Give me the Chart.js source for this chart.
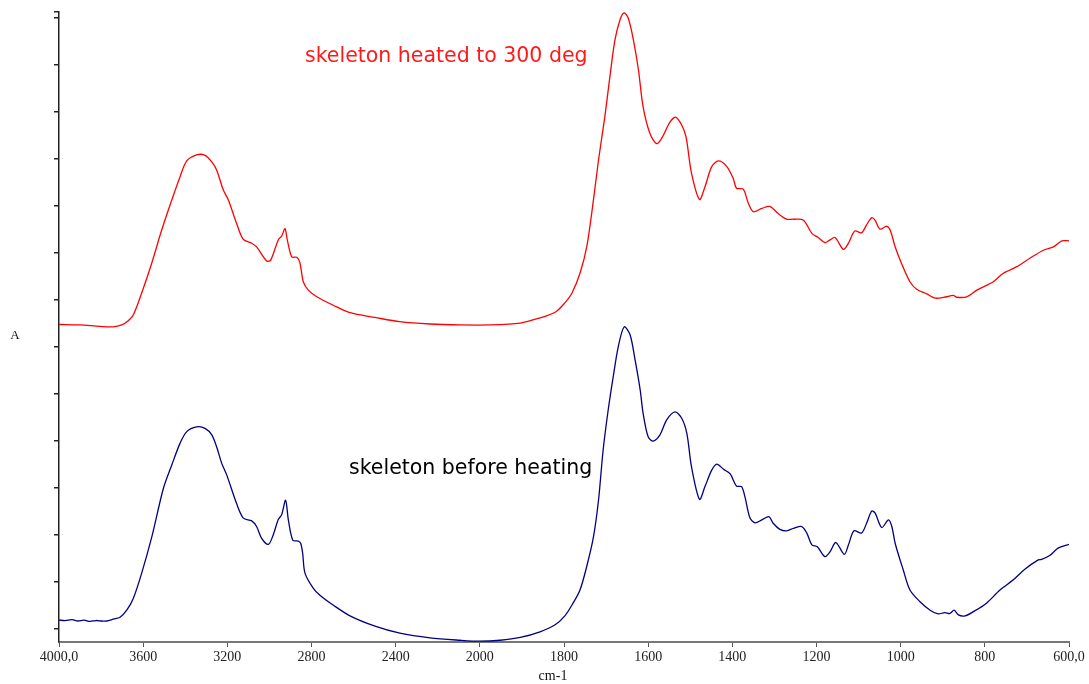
<!DOCTYPE html>
<html>
<head>
<meta charset="utf-8">
<title>IR spectra of skeleton before and after heating</title>
<script src="https://cdn.jsdelivr.net/npm/chart.js@4.4.1/dist/chart.umd.min.js"></script>
<style>
  html, body { margin: 0; padding: 0; background: #ffffff; }
  #wrap { width: 1089px; height: 684px; }
</style>
</head>
<body>
<div id="wrap"><canvas id="ir" width="1089" height="684"></canvas></div>
<script>
// Wavenumber ticks (cm-1). The axis changes scale at 2000 cm-1: 400 per division above, 200 below.
const xTickWavenumbers = [4000, 3600, 3200, 2800, 2400, 2000, 1800, 1600, 1400, 1200, 1000, 800, 600];
const xTickLabels = ['4000,0', '3600', '3200', '2800', '2400', '2000', '1800', '1600', '1400', '1200', '1000', '800', '600,0'];

// Absorbance ticks (unlabelled)
const yTickValues = [0, 0.1, 0.2, 0.3, 0.4, 0.5, 0.6, 0.7, 0.8, 0.9, 1.0, 1.1, 1.2, 1.3, 1.313];

// Skeleton heated to 300 deg
const heatedWavenumber = [
  4000, 3900, 3805, 3743, 3702, 3671, 3647, 3607, 3559, 3512, 3464, 3425, 3393, 3346, 3306, 3274,
  3251, 3219, 3195, 3156, 3124, 3084, 3061, 3013, 2994, 2958, 2942, 2926, 2915, 2894, 2870, 2855,
  2839, 2815, 2775, 2697, 2617, 2498, 2380, 2237, 2094, 1976, 1904, 1857, 1821, 1798, 1781, 1762,
  1746, 1730, 1718, 1703, 1691, 1679, 1667, 1657, 1647, 1635, 1623, 1612, 1596, 1580, 1568, 1548,
  1534, 1520, 1510, 1497, 1478, 1465, 1449, 1433, 1413, 1398, 1390, 1374, 1362, 1350, 1330, 1310,
  1291, 1271, 1255, 1231, 1211, 1196, 1180, 1168, 1156, 1136, 1124, 1109, 1093, 1081, 1069, 1061,
  1049, 1033, 1025, 1013, 998, 978, 962, 938, 918, 891, 875, 867, 843, 819, 780, 756,
  724, 693, 661, 637, 617, 600
];
const heatedAbsorbance = [
  0.648, 0.647, 0.644, 0.643, 0.647, 0.656, 0.668, 0.715, 0.779, 0.849, 0.913, 0.962, 0.996, 1.009, 1.008, 0.994,
  0.977, 0.934, 0.913, 0.863, 0.829, 0.821, 0.813, 0.783, 0.785, 0.828, 0.836, 0.852, 0.828, 0.792, 0.791, 0.779,
  0.739, 0.721, 0.707, 0.689, 0.673, 0.663, 0.654, 0.649, 0.647, 0.647, 0.651, 0.662, 0.674, 0.694, 0.715, 0.757,
  0.813, 0.913, 0.998, 1.090, 1.175, 1.253, 1.296, 1.311, 1.299, 1.253, 1.189, 1.111, 1.055, 1.033, 1.044, 1.079,
  1.089, 1.072, 1.047, 0.970, 0.914, 0.941, 0.984, 0.996, 0.984, 0.959, 0.938, 0.936, 0.906, 0.888, 0.895, 0.899,
  0.884, 0.872, 0.872, 0.870, 0.842, 0.833, 0.822, 0.828, 0.833, 0.808, 0.821, 0.847, 0.843, 0.860, 0.875, 0.870,
  0.851, 0.857, 0.849, 0.813, 0.778, 0.739, 0.723, 0.713, 0.704, 0.707, 0.710, 0.706, 0.707, 0.721, 0.739, 0.757,
  0.771, 0.789, 0.806, 0.813, 0.826, 0.826
];

// Skeleton before heating
const rawWavenumber = [
  4000, 3971, 3938, 3910, 3881, 3853, 3824, 3796, 3773, 3742, 3710, 3678, 3647, 3607, 3559, 3504,
  3464, 3425, 3393, 3346, 3306, 3274, 3251, 3227, 3203, 3156, 3124, 3084, 3061, 3037, 3005, 2982,
  2958, 2942, 2923, 2910, 2889, 2863, 2851, 2842, 2831, 2792, 2760, 2697, 2617, 2498, 2380, 2237,
  2094, 2000, 1952, 1904, 1857, 1821, 1798, 1781, 1762, 1746, 1730, 1718, 1707, 1695, 1683, 1671,
  1657, 1643, 1631, 1619, 1612, 1600, 1588, 1572, 1556, 1536, 1520, 1508, 1497, 1478, 1465, 1449,
  1437, 1421, 1405, 1390, 1378, 1370, 1358, 1346, 1330, 1313, 1303, 1287, 1271, 1255, 1235, 1223,
  1211, 1198, 1180, 1168, 1154, 1134, 1124, 1111, 1093, 1081, 1069, 1061, 1045, 1029, 1021, 1013,
  994, 978, 954, 930, 911, 895, 883, 873, 863, 847, 827, 796, 764, 733, 705, 673,
  665, 645, 626, 600
];
const rawAbsorbance = [
  0.019, 0.018, 0.020, 0.017, 0.019, 0.016, 0.018, 0.017, 0.017, 0.021, 0.025, 0.040, 0.065, 0.119, 0.196, 0.299,
  0.349, 0.395, 0.420, 0.430, 0.427, 0.413, 0.388, 0.353, 0.328, 0.267, 0.236, 0.230, 0.218, 0.193, 0.180, 0.200,
  0.233, 0.243, 0.274, 0.232, 0.189, 0.187, 0.182, 0.161, 0.119, 0.087, 0.072, 0.051, 0.028, 0.006, -0.009, -0.019,
  -0.024, -0.026, -0.024, -0.018, -0.006, 0.009, 0.028, 0.051, 0.083, 0.133, 0.196, 0.274, 0.381, 0.466, 0.537, 0.601,
  0.643, 0.626, 0.572, 0.509, 0.459, 0.409, 0.400, 0.413, 0.445, 0.462, 0.448, 0.416, 0.345, 0.276, 0.303, 0.338,
  0.351, 0.340, 0.330, 0.304, 0.303, 0.281, 0.236, 0.226, 0.232, 0.239, 0.225, 0.212, 0.209, 0.214, 0.218, 0.204,
  0.179, 0.175, 0.154, 0.164, 0.184, 0.159, 0.179, 0.209, 0.204, 0.225, 0.251, 0.247, 0.216, 0.232, 0.218, 0.182,
  0.126, 0.083, 0.058, 0.040, 0.032, 0.035, 0.033, 0.040, 0.030, 0.028, 0.037, 0.055, 0.083, 0.104, 0.127, 0.147,
  0.148, 0.157, 0.172, 0.180
];

// Map a wavenumber to its position in tick divisions (0 at 4000, 12 at 600).
function toAxis(w) {
  const t = xTickWavenumbers;
  for (let i = 0; i < t.length - 1; i++) {
    if (w <= t[i] && w >= t[i + 1]) {
      return i + (t[i] - w) / (t[i] - t[i + 1]);
    }
  }
  return w > t[0] ? 0 : t.length - 1;
}

function toPoints(ws, as) {
  return ws.map((w, i) => ({ x: toAxis(w), y: as[i] }));
}

// Free text: annotations and axis names
const textPlugin = {
  id: 'spectrumText',
  afterDraw(chart) {
    const ctx = chart.ctx;
    ctx.save();
    ctx.textAlign = 'left';
    ctx.textBaseline = 'alphabetic';
    ctx.font = '20.5px "DejaVu Sans", sans-serif';
    ctx.fillStyle = '#ff1a1a';
    ctx.fillText('skeleton heated to 300 deg', 305, 62);
    ctx.fillStyle = '#000000';
    ctx.fillText('skeleton before heating', 349, 474);

    ctx.font = '13px "Liberation Serif", serif';
    ctx.fillStyle = '#111111';
    ctx.textAlign = 'center';
    ctx.textBaseline = 'middle';
    ctx.fillText('A', 15, 336);
    ctx.font = '14px "Liberation Serif", serif';
    ctx.fillText('cm-1', 553, 676);
    ctx.restore();
  }
};

new Chart(document.getElementById('ir'), {
  type: 'line',
  data: {
    datasets: [
      {
        label: 'skeleton heated to 300 deg',
        data: toPoints(heatedWavenumber, heatedAbsorbance),
        borderColor: '#ff0000',
        borderWidth: 1.3,
        pointRadius: 0,
        tension: 0.3,
        fill: false
      },
      {
        label: 'skeleton before heating',
        data: toPoints(rawWavenumber, rawAbsorbance),
        borderColor: '#000080',
        borderWidth: 1.3,
        pointRadius: 0,
        tension: 0.3,
        fill: false
      }
    ]
  },
  options: {
    responsive: false,
    animation: false,
    events: [],
    layout: { padding: { left: 0, right: 20, top: 12, bottom: 0 } },
    plugins: {
      legend: { display: false },
      tooltip: { enabled: false }
    },
    scales: {
      x: {
        type: 'linear',
        min: 0,
        max: xTickWavenumbers.length - 1,
        afterBuildTicks(scale) {
          scale.ticks = xTickWavenumbers.map((w, i) => ({ value: i }));
        },
        afterFit(scale) { scale.height = 42; },
        ticks: {
          autoSkip: false,
          maxRotation: 0,
          padding: 2,
          color: '#222222',
          font: { family: '"Liberation Serif", serif', size: 14 },
          callback: (v, i) => xTickLabels[i]
        },
        grid: { drawOnChartArea: false, drawTicks: true, tickLength: 5, color: '#555555', lineWidth: 1 },
        border: { display: true, color: '#777777', width: 2 }
      },
      y: {
        type: 'linear',
        min: -0.0277,
        max: 1.313,
        afterBuildTicks(scale) {
          scale.ticks = yTickValues.map(v => ({ value: v }));
        },
        afterFit(scale) { scale.width = 59; },
        ticks: { display: true, callback: () => '' },
        grid: { drawOnChartArea: false, drawTicks: true, tickLength: 5, color: '#222222', lineWidth: 1.5 },
        border: { display: true, color: '#222222', width: 1.5 }
      }
    }
  },
  plugins: [textPlugin]
});
</script>
</body>
</html>
